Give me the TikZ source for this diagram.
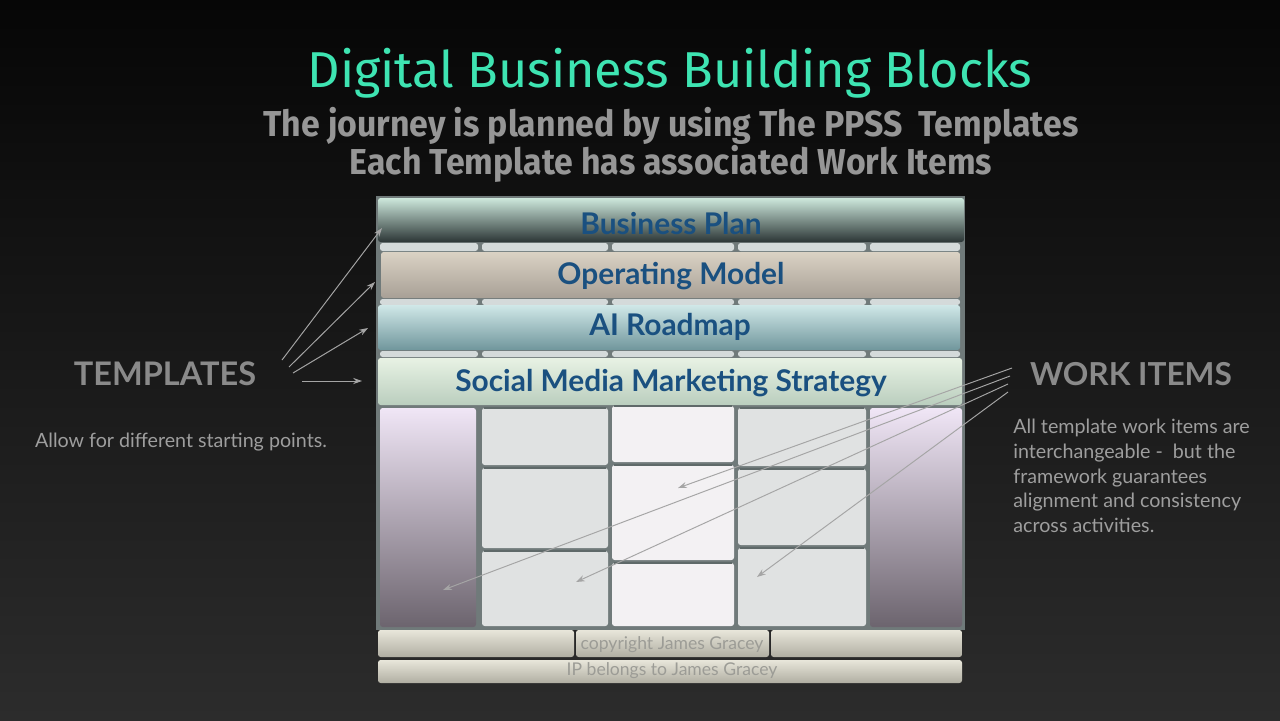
\documentclass[tikz,border=0pt]{standalone}
\usepackage{fontspec}
\setmainfont{Lato}
\newfontfamily\titlefont{Fira Sans}
\definecolor{bgTop}{RGB}{6, 6, 6}
\definecolor{bgBot}{RGB}{44, 44, 44}
\definecolor{titleMint}{RGB}{62, 228, 178}
\definecolor{subGrey}{RGB}{150, 150, 150}
\definecolor{sideGrey}{RGB}{138, 138, 138}
\definecolor{noteGrey}{RGB}{158, 158, 158}
\definecolor{blockBlue}{RGB}{26, 80, 128}
\definecolor{frameGrey}{RGB}{112, 122, 122}
\definecolor{gapGrey}{RGB}{212, 218, 218}
\definecolor{edgeGrey}{RGB}{95, 105, 105}
\definecolor{planTop}{RGB}{205, 232, 220}
\definecolor{planBot}{RGB}{44, 54, 54}
\definecolor{opTop}{RGB}{218, 210, 196}
\definecolor{opBot}{RGB}{168, 160, 150}
\definecolor{aiTop}{RGB}{208, 232, 232}
\definecolor{aiBot}{RGB}{112, 150, 156}
\definecolor{smTop}{RGB}{232, 242, 228}
\definecolor{smBot}{RGB}{186, 206, 190}
\definecolor{cellGrey}{RGB}{224, 226, 226}
\definecolor{cellWhite}{RGB}{243, 241, 243}
\definecolor{sideTop}{RGB}{240, 230, 246}
\definecolor{sideBot}{RGB}{108, 100, 110}
\definecolor{footTop}{RGB}{232, 230, 218}
\definecolor{footBot}{RGB}{176, 174, 162}
\definecolor{footText}{RGB}{156, 156, 150}
\definecolor{arrowGrey}{RGB}{165, 165, 165}
\usetikzlibrary{arrows.meta, positioning}

\begin{document}
\begin{tikzpicture}[x=0.02cm, y=-0.02cm,
  bar/.style={rounded corners=1.5pt},
  blocktext/.style={text=blockBlue, font=\bfseries\fontsize{17}{20}\selectfont},
  foottext/.style={text=footText, font=\fontsize{10}{12}\selectfont},
  pointer/.style={draw=arrowGrey, line width=0.55pt, -{Stealth[length=5pt, width=3.5pt]}}]

%%% BACKGROUND
\shade[top color=bgTop, bottom color=bgBot] (0,0) rectangle (1280,720);
\useasboundingbox (0,0) rectangle (1280,720);

%%% HEADINGS
\node[text=titleMint, font=\titlefont\fontsize{28.7}{32}\selectfont] (title) at (670,73) {Digital Business Building Blocks};
\node[text=subGrey, font=\titlefont\bfseries\fontsize{20.5}{24}\selectfont, xscale=0.94] (subA) at (671,126) {The journey is planned by using The PPSS\ \ Templates};
\node[text=subGrey, font=\titlefont\bfseries\fontsize{20.5}{24}\selectfont, xscale=0.94] (subB) at (671,164) {Each Template has associated Work Items};

%%% FRAME
\fill[frameGrey] (376,196) rectangle (965,630);

\foreach \xa/\xb in {380/478, 482/608, 612/734, 738/866, 870/960} {
  \foreach \ya/\yb in {243/251, 299/305, 351/357} {
    \fill[gapGrey, bar] (\xa,\ya) rectangle (\xb,\yb);
  }
}

%%% TEMPLATE BARS
\shade[bar, top color=planTop, bottom color=planBot] (378,198) rectangle (964,242);
\node[blocktext] (bplan) at (671,224) {Business Plan};

\shade[bar, top color=opTop, bottom color=opBot] (381,252) rectangle (960,298);
\node[blocktext] (opmodel) at (671,276) {Operating Model};

\shade[bar, top color=aiTop, bottom color=aiBot] (378,305) rectangle (960,350);
\node[blocktext] (airoad) at (670,327) {AI Roadmap};

\shade[bar, top color=smTop, bottom color=smBot] (378,358) rectangle (962,405);
\node[blocktext] (smms) at (671,383) {Social Media Marketing Strategy};

%%% WORK ITEM COLUMNS
\shade[bar, top color=sideTop, bottom color=sideBot] (380,408) rectangle (476,627);
\shade[bar, top color=sideTop, bottom color=sideBot] (870,408) rectangle (962,627);

\foreach \ya/\yb in {408/465, 468/548, 551/626} {
  \fill[cellGrey, bar] (482,\ya) rectangle (608,\yb);
  \draw[edgeGrey, line width=1.1pt] (484,\ya) -- (606,\ya);
}
\foreach \ya/\yb in {406/462, 465/560, 563/626} {
  \fill[cellWhite, bar] (612,\ya) rectangle (734,\yb);
  \draw[edgeGrey, line width=1.1pt] (614,\ya) -- (732,\ya);
}
\foreach \ya/\yb in {408/466, 469/545, 548/626} {
  \fill[cellGrey, bar] (738,\ya) rectangle (866,\yb);
  \draw[edgeGrey, line width=1.1pt] (740,\ya) -- (864,\ya);
}

%%% FOOTER
\shade[bar, top color=footTop, bottom color=footBot] (378,630) rectangle (574,657);
\shade[bar, top color=footTop, bottom color=footBot] (576,630) rectangle (769,657);
\shade[bar, top color=footTop, bottom color=footBot] (771,630) rectangle (962,657);
\node[foottext] (copy) at (672,645) {copyright James Gracey};

\shade[bar, top color=footTop, bottom color=footBot] (378,660) rectangle (962,683);
\node[foottext] (ip) at (672,671) {IP belongs to James Gracey};

%%% LEFT SIDE
\node[text=sideGrey, font=\bfseries\fontsize{18.5}{22}\selectfont] (tpl) at (165,374) {TEMPLATES};
\node[text=noteGrey, font=\fontsize{11.2}{13}\selectfont] (tplnote) at (181,442) {Allow for different starting points.};

\coordinate (tplA) at (282,360);
\coordinate (tplB) at (289,367);
\coordinate (tplC) at (293,373);
\coordinate (tplD) at (302,381);
\coordinate (toPlan) at (382,228);
\coordinate (toOp) at (375,282);
\coordinate (toAi) at (368,328);
\coordinate (toSm) at (362,381);

\draw[pointer] (tplA) -- (toPlan);
\draw[pointer] (tplB) -- (toOp);
\draw[pointer] (tplC) -- (toAi);
\draw[pointer] (tplD) -- (toSm);

%%% RIGHT SIDE
\node[text=sideGrey, font=\bfseries\fontsize{18}{22}\selectfont] (wrk) at (1131,374) {WORK ITEMS};
\node[text=noteGrey, font=\fontsize{11.2}{14}\selectfont, anchor=north west, align=left, inner sep=0pt] (wrknote) at (1013,419)
  {All template work items are\\interchangeable -\ \ but the\\framework guarantees\\alignment and consistency\\across activities.};

\coordinate (wrkA) at (1012,368);
\coordinate (wrkB) at (1010,376);
\coordinate (wrkC) at (1008,384);
\coordinate (wrkD) at (1008,392);
\coordinate (toMid) at (678,488);
\coordinate (toSide) at (443,590);
\coordinate (toLow) at (576,582);
\coordinate (toRight) at (757,577);

\draw[pointer] (wrkA) -- (toMid);
\draw[pointer] (wrkB) -- (toSide);
\draw[pointer] (wrkC) -- (toLow);
\draw[pointer] (wrkD) -- (toRight);

\end{tikzpicture}
\end{document}
